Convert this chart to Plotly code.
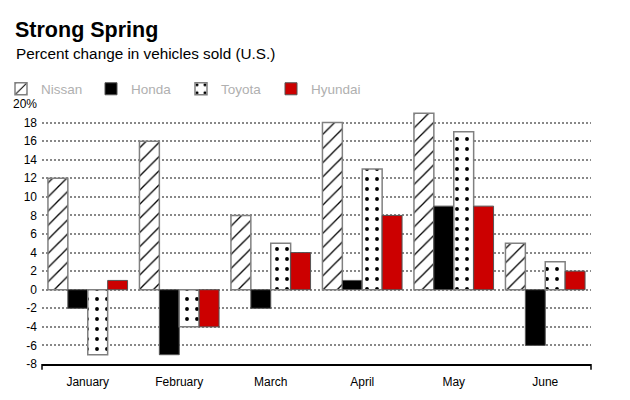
import plotly.graph_objects as go

months = ["January", "February", "March", "April", "May", "June"]
nissan = [12, 16, 8, 18, 19, 5]
honda = [-2, -7, -2, 1, 9, -6]
toyota = [-7, -4, 5, 13, 17, 3]
hyundai = [1, -4, 4, 8, 9, 2]
ytick_vals = [-8, -6, -4, -2, 0, 2, 4, 6, 8, 10, 12, 14, 16, 18, 20]
ytick_text = ["-8", "-6", "-4", "-2", "0", "2", "4", "6", "8", "10", "12", "14", "16", "18", "20%"]

W, H = 630, 400
OFF = 8  # page body margin
ML, MR, MT, MB = 42 - OFF, 39 + OFF, 104 - OFF, 36 + OFF
PW, PH = W - ML - MR, H - MT - MB

def px_x(x):
    return (x - OFF - ML) / PW

def px_y(y):
    return (H - MB - (y - OFF)) / PH

fig = go.Figure()
fig.add_trace(go.Bar(name="Nissan", x=months, y=nissan,
                     marker=dict(color="white", line=dict(color="#808080", width=1.5),
                                 pattern=dict(shape="/", fgcolor="#000000", bgcolor="white",
                                              fgopacity=1, size=10, solidity=0.13))))
fig.add_trace(go.Bar(name="Honda", x=months, y=honda,
                     marker=dict(color="black", line=dict(color="#555555", width=1))))
fig.add_trace(go.Bar(name="Toyota", x=months, y=toyota,
                     marker=dict(color="white", line=dict(color="#808080", width=1.5),
                                 pattern=dict(shape=".", fgcolor="#000000", bgcolor="white",
                                              fgopacity=1, size=10, solidity=0.12))))
fig.add_trace(go.Bar(name="Hyundai", x=months, y=hyundai,
                     marker=dict(color="#cc0000", line=dict(color="#555555", width=1))))

fig.update_layout(
    width=W, height=H,
    margin=dict(l=ML, r=MR, t=MT, b=MB, autoexpand=False),
    paper_bgcolor="white", plot_bgcolor="white",
    barmode="group", bargap=0.13, bargroupgap=0,
    font=dict(family="Liberation Sans, Arial, sans-serif", size=11, color="black"),
    title=dict(text="<b>Strong Spring</b>", x=(15 - OFF)/W, xanchor="left", xref="container",
               y=1 - (29 - OFF)/H, yanchor="middle", yref="container",
               font=dict(size=21.5, color="black")),
    legend=dict(orientation="h", xref="paper", yref="paper",
                x=px_x(1), xanchor="left", y=px_y(89), yanchor="middle",
                entrywidth=45, entrywidthmode="pixels", bgcolor="rgba(0,0,0,0)",
                font=dict(size=13.5, color="#b0b0b0"), itemclick=False),
    annotations=[dict(text="Percent change in vehicles sold (U.S.)", xref="paper", yref="paper",
                      x=px_x(14), xanchor="left", y=px_y(53), yanchor="middle",
                      showarrow=False, font=dict(size=15.3, color="black"))],
    shapes=[
        dict(type="line", xref="paper", yref="paper", x0=0, x1=0, y0=0, y1=-0.022,
             line=dict(color="black", width=1.5)),
        dict(type="line", xref="paper", yref="paper", x0=1, x1=1, y0=0, y1=-0.022,
             line=dict(color="black", width=1.5)),
    ],
)

fig.update_yaxes(range=[-8, 20], tickvals=ytick_vals, ticktext=ytick_text,
                 showgrid=True, gridcolor="#888888", griddash="2px,2px", gridwidth=1.5,
                 zeroline=False, showline=False, ticks="", ticklabelstandoff=4,
                 tickfont=dict(size=12))
fig.update_xaxes(showline=True, linecolor="black", linewidth=1.5, ticks="",
                 showgrid=False, ticklabelstandoff=6, tickfont=dict(size=12))

fig.write_html("out.html")
